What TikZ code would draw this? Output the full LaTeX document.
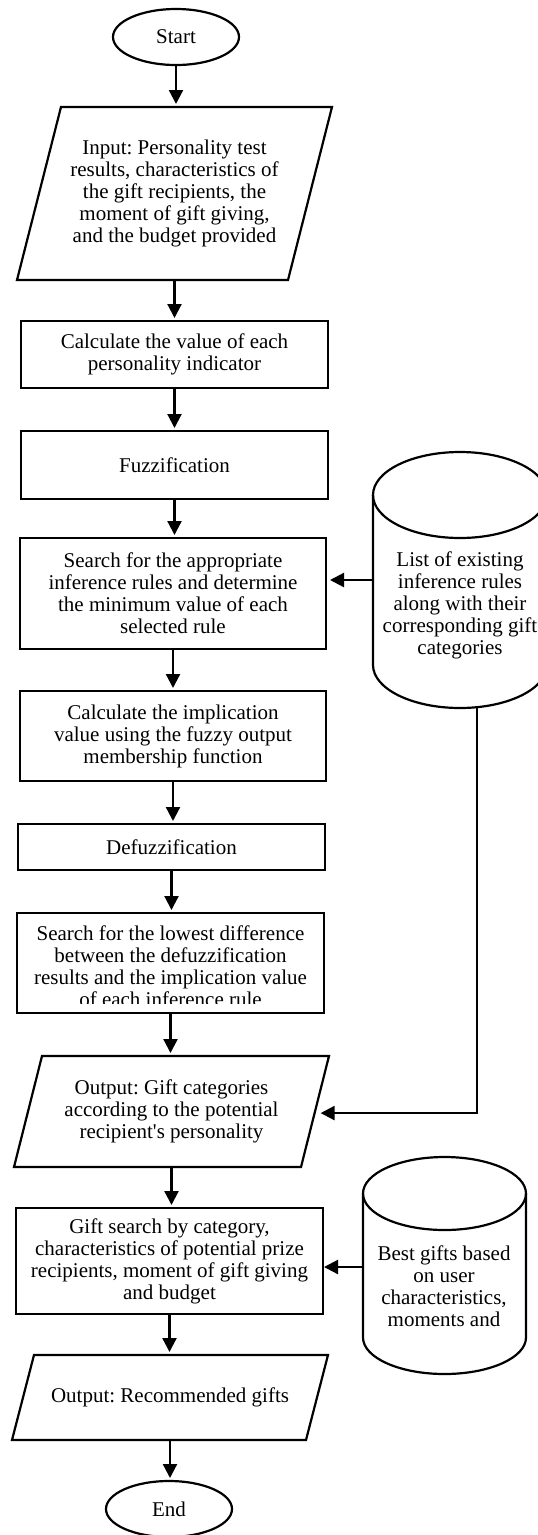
\documentclass[tikz,border=0pt]{standalone}
\usepackage{fontspec}
\setmainfont{Liberation Serif}
\usetikzlibrary{arrows.meta,shapes.geometric,calc}
\newcommand{\mfs}{\fontsize{21}{22}\selectfont\frenchspacing}
\tikzset{
  ln/.style={line width=2.2pt},
  box/.style={draw, ln, rectangle, align=center, font=\mfs, inner sep=0pt, outer sep=0pt},
  term/.style={draw, ln, ellipse, align=center, font=\mfs, inner sep=0pt, outer sep=0pt},
  frame/.style={draw=none, rectangle, align=center, font=\mfs, inner sep=0pt, outer sep=0pt},
  txt/.style={align=center, font=\mfs, inner sep=0pt},
  arr/.style={ln, -{Triangle[width=14pt,length=14pt]}, shorten >=3pt},
}
\begin{document}
\begin{tikzpicture}[x=1pt,y=1pt]
\useasboundingbox (0,0) rectangle (538,-1535);
\fill[white] (0,0) rectangle (538,-1535);

% main column
\node[term, minimum width=126pt, minimum height=56pt] (start) at (176,-37) {Start};
\node[frame, minimum width=315pt, minimum height=173pt] (in) at (174.5,-193.5)
  {Input: Personality test\\results, characteristics of\\the gift recipients, the\\moment of gift giving,\\and the budget provided};
\draw[ln] ([xshift=44pt]in.north west) -- (in.north east) -- ([xshift=-44pt]in.south east) -- (in.south west) -- cycle;
\node[box, minimum width=307pt, minimum height=67pt] (calc) at (174.5,-354.5) {Calculate the value of each\\personality indicator};
\node[box, minimum width=307pt, minimum height=68pt] (fuzz) at (174.5,-465) {Fuzzification};
\node[box, minimum width=306pt, minimum height=111pt] (rules) at (173,-593.5) {Search for the appropriate\\inference rules and determine\\the minimum value of each\\selected rule};
\node[box, minimum width=306pt, minimum height=90pt] (impl) at (173,-736) {Calculate the implication\\value using the fuzzy output\\membership function};
\node[box, minimum width=307pt, minimum height=46pt] (defuzz) at (171.5,-847) {Defuzzification};
\node[box, minimum width=307pt, minimum height=100pt] (lowest) at (170.5,-963) {};
\begin{scope}
  \clip (lowest.north west) rectangle ([yshift=10pt]lowest.south east);
  \node[txt] (lowt) at (170.5,-966) {Search for the lowest difference\\between the defuzzification\\results and the implication value\\of each inference rule};
\end{scope}
\node[frame, minimum width=315pt, minimum height=111pt] (out1) at (171.5,-1111.5)
  {Output: Gift categories\\according to the potential\\recipient\textquotesingle s personality};
\draw[ln] ([xshift=28pt]out1.north west) -- (out1.north east) -- ([xshift=-28pt]out1.south east) -- (out1.south west) -- cycle;
\node[box, minimum width=307pt, minimum height=106pt] (gift) at (169.5,-1261) {Gift search by category,\\characteristics of potential prize\\recipients, moment of gift giving\\and budget};
\node[frame, minimum width=316pt, minimum height=85pt] (out2) at (170,-1397.5) {Output: Recommended gifts};
\draw[ln] ([xshift=22pt]out2.north west) -- (out2.north east) -- ([xshift=-22pt]out2.south east) -- (out2.south west) -- cycle;
\node[term, minimum width=126pt, minimum height=56pt] (end) at (169,-1509) {End};

% database 1
\node[frame, minimum width=174pt, minimum height=256pt] (db1) at (460,-580) {};
\draw[ln] (373,-495) -- (373,-665) arc[start angle=180,end angle=360,x radius=87pt,y radius=43pt]
  -- (547,-495) arc[start angle=0,end angle=180,x radius=87pt,y radius=43pt] -- cycle;
\draw[ln] (373,-495) arc[start angle=180,end angle=360,x radius=87pt,y radius=43pt];
\node[txt] (db1t) at (460,-605) {List of existing\\inference rules\\along with their\\corresponding gift\\categories};

% database 2
\node[frame, minimum width=163pt, minimum height=217pt] (db2) at (444.5,-1265.5) {};
\draw[ln] (363,-1193.5) -- (363,-1337.5) arc[start angle=180,end angle=360,x radius=81.5pt,y radius=36.5pt]
  -- (526,-1193.5) arc[start angle=0,end angle=180,x radius=81.5pt,y radius=36.5pt] -- cycle;
\draw[ln] (363,-1193.5) arc[start angle=180,end angle=360,x radius=81.5pt,y radius=36.5pt];
\node[txt] (db2t) at (444,-1286) {Best gifts based\\on user\\characteristics,\\moments and};

% vertical connectors
\draw[arr] (start.south) -- (start.south |- in.north);
\draw[arr] (in.south) -- (in.south |- calc.north);
\draw[arr] (calc.south) -- (calc.south |- fuzz.north);
\draw[arr] (fuzz.south) -- (fuzz.south |- rules.north);
\draw[arr] (rules.south) -- (rules.south |- impl.north);
\draw[arr] (impl.south) -- (impl.south |- defuzz.north);
\draw[arr] (defuzz.south) -- (defuzz.south |- lowest.north);
\draw[arr] (lowest.south) -- (lowest.south |- out1.north);
\draw[arr] (out1.south) -- (out1.south |- gift.north);
\draw[arr] (gift.south) -- (gift.south |- out2.north);
\draw[arr] (out2.south) -- (out2.south |- end.north);

% side connectors
\draw[arr, shorten >=4pt] (db1.west) -- (db1.west -| rules.east);
\coordinate (db1b) at ($(db1.south)+(17pt,1pt)$);
\coordinate (o1r) at ($(out1.north east)!0.514!([xshift=-28pt]out1.south east)$);
\draw[arr, shorten >=6pt] (db1b) |- (o1r);
\draw[arr, shorten >=1pt] ([yshift=-1.5pt]db2.west) -- ([yshift=-1.5pt]db2.west -| gift.east);
\end{tikzpicture}
\end{document}
